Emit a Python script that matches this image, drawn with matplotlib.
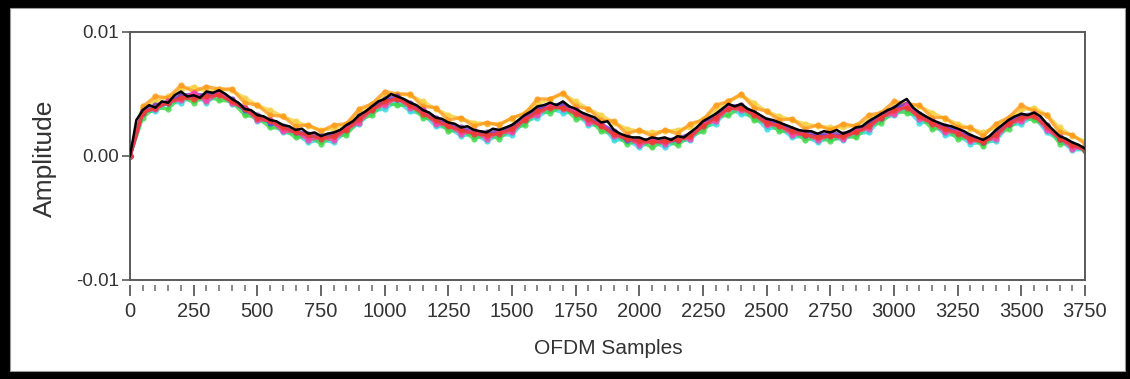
import numpy as np
import matplotlib
matplotlib.use("Agg")
import matplotlib.pyplot as plt
from matplotlib.patches import Rectangle
from matplotlib.ticker import MultipleLocator, FixedLocator

# ---- data (amplitude in units of 1e-3) ----
black = [0.0, 2.9, 3.7, 4.1, 3.9, 4.4, 4.3, 4.9, 5.2, 4.8, 4.9, 4.7, 5.2, 5.1, 5.3, 5.0,
         4.6, 4.3, 3.8, 3.7, 3.3, 3.2, 2.9, 2.8, 2.5, 2.4, 2.1, 2.2, 1.8, 1.9, 1.6, 1.8,
         1.9, 2.1, 2.5, 2.8, 3.3, 3.6, 4.0, 4.4, 4.6, 5.0, 4.8, 4.6, 4.3, 4.1, 3.7, 3.5,
         3.1, 3.0, 2.7, 2.6, 2.3, 2.4, 2.1, 2.0, 1.9, 2.2, 2.1, 2.3, 2.5, 2.9, 3.3, 3.6,
         4.0, 4.1, 4.3, 4.1, 4.4, 4.0, 3.8, 3.5, 3.3, 3.1, 2.7, 2.8, 2.1, 1.8, 1.6, 1.5,
         1.5, 1.3, 1.5, 1.4, 1.5, 1.3, 1.6, 1.5, 1.9, 2.3, 2.8, 3.1, 3.4, 3.8, 4.2, 4.0,
         4.2, 3.8, 3.6, 3.3, 3.0, 2.9, 2.7, 2.5, 2.3, 2.1, 2.0, 2.0, 1.8, 2.0, 1.9, 2.1,
         1.8, 2.0, 2.3, 2.4, 2.8, 3.1, 3.4, 3.7, 3.9, 4.3, 4.6, 3.9, 3.5, 3.2, 2.9, 2.7,
         2.5, 2.4, 2.2, 2.0, 1.7, 1.5, 1.3, 1.6, 2.1, 2.5, 2.9, 3.2, 3.4, 3.3, 3.5, 3.2,
         2.6, 2.1, 1.6, 1.4, 1.1, 0.9, 0.6]

orange = [0.0, 4.0, 4.8, 4.7, 5.7, 5.2, 5.6, 5.4, 5.4, 4.3, 4.1, 3.3, 3.2, 2.4, 2.5, 2.0,
          2.5, 2.6, 3.8, 4.2, 5.2, 5.0, 5.0, 4.0, 3.9, 2.9, 3.1, 2.4, 2.7, 2.5, 3.1, 3.4,
          4.6, 4.6, 5.1, 4.0, 3.8, 2.9, 2.8, 1.8, 2.1, 1.6, 2.1, 1.8, 2.6, 2.9, 4.1, 4.4,
          5.0, 3.9, 3.6, 2.9, 3.0, 2.2, 2.5, 2.1, 2.6, 2.4, 3.3, 3.5, 4.4, 4.2, 4.1, 3.1,
          3.1, 2.3, 2.3, 1.6, 2.6, 3.1, 4.1, 3.6, 3.3, 1.9, 1.7, 1.0]
yellow = [0.0, 3.9, 4.4, 4.8, 5.3, 5.6, 5.2, 5.4, 5.3, 4.7, 4.1, 3.7, 3.2, 2.8, 2.4, 2.1,
          2.2, 2.6, 3.5, 4.2, 4.8, 5.0, 4.9, 4.4, 3.8, 3.3, 3.0, 2.7, 2.6, 2.6, 3.0, 3.5,
          4.2, 4.6, 5.0, 4.4, 3.8, 3.3, 2.7, 2.2, 2.0, 1.9, 2.0, 2.1, 2.3, 3.0, 3.7, 4.4,
          4.9, 4.3, 3.6, 3.2, 2.9, 2.6, 2.4, 2.3, 2.3, 2.5, 2.9, 3.5, 4.0, 4.2, 4.0, 3.5,
          3.0, 2.6, 2.2, 1.9, 2.3, 3.1, 3.7, 3.9, 3.3, 2.3, 1.6, 1.2]
green = [0.0, 3.1, 3.9, 3.8, 4.8, 4.3, 4.8, 4.5, 4.4, 3.3, 3.1, 2.3, 2.2, 1.5, 1.6, 1.0,
         1.6, 1.7, 2.9, 3.3, 4.3, 4.1, 4.1, 3.1, 2.9, 2.0, 2.1, 1.4, 1.7, 1.4, 2.2, 2.5,
         3.6, 3.5, 4.0, 3.0, 3.0, 2.0, 1.8, 1.0, 1.2, 0.7, 1.2, 0.9, 1.6, 2.0, 3.1, 3.3,
         3.9, 2.9, 2.7, 2.0, 2.0, 1.3, 1.5, 1.2, 1.6, 1.5, 2.4, 2.7, 3.6, 3.5, 3.2, 2.2,
         2.2, 1.4, 1.5, 0.8, 1.7, 2.2, 3.1, 2.9, 2.4, 1.0, 1.0, 0.4]
cyan = [0.0, 3.6, 3.6, 4.3, 4.3, 4.9, 4.3, 5.0, 4.2, 3.8, 2.8, 2.8, 1.9, 1.8, 1.1, 1.3,
        1.1, 2.0, 2.6, 3.6, 3.8, 4.4, 3.6, 3.4, 2.4, 2.3, 1.6, 1.8, 1.2, 1.7, 1.7, 2.8,
        3.1, 3.8, 3.5, 3.5, 2.5, 2.5, 1.3, 1.3, 0.7, 1.2, 0.7, 1.2, 1.3, 2.3, 2.6, 3.8,
        3.4, 3.2, 2.2, 2.3, 1.5, 1.6, 1.1, 1.5, 1.3, 1.8, 1.9, 3.0, 3.3, 3.8, 2.7, 2.7,
        1.7, 1.7, 1.0, 1.1, 1.2, 2.5, 2.6, 3.2, 1.9, 1.3, 0.5, 0.5]
blue = [0.0, 3.5, 3.9, 4.3, 4.8, 4.8, 4.9, 5.0, 4.5, 3.7, 3.2, 2.7, 2.3, 1.9, 1.6, 1.5,
        1.7, 2.2, 3.1, 3.8, 4.5, 4.6, 4.2, 3.6, 2.9, 2.5, 2.1, 1.9, 1.7, 1.9, 2.3, 3.0,
        3.7, 4.0, 4.0, 3.6, 3.0, 2.5, 1.9, 1.3, 1.2, 1.2, 1.1, 1.3, 1.7, 2.5, 3.2, 3.9,
        4.0, 3.4, 2.8, 2.5, 2.0, 1.7, 1.6, 1.7, 1.6, 2.0, 2.5, 3.1, 3.8, 4.1, 3.3, 2.7,
        2.3, 1.9, 1.5, 1.1, 1.8, 2.6, 3.2, 3.3, 2.4, 1.4, 0.9, 0.5]
purple = [0.0, 3.6, 4.1, 4.4, 4.9, 5.0, 4.9, 5.1, 4.6, 3.9, 3.3, 2.9, 2.4, 2.0, 1.8, 1.6,
          1.8, 2.3, 3.2, 3.9, 4.6, 4.8, 4.3, 3.7, 3.1, 2.6, 2.3, 2.0, 1.9, 2.0, 2.4, 3.1,
          3.8, 4.1, 4.2, 3.7, 3.1, 2.6, 2.0, 1.5, 1.3, 1.3, 1.3, 1.4, 1.8, 2.6, 3.3, 4.0,
          4.1, 3.5, 2.9, 2.6, 2.2, 1.9, 1.7, 1.8, 1.8, 2.1, 2.6, 3.3, 3.9, 4.2, 3.4, 2.8,
          2.4, 2.0, 1.6, 1.2, 1.9, 2.8, 3.3, 3.4, 2.5, 1.5, 1.0, 0.6]
magenta = [0.0, 3.6, 3.8, 4.4, 4.5, 5.1, 4.4, 5.1, 4.3, 3.9, 2.9, 2.9, 2.0, 2.0, 1.3, 1.5,
           1.3, 2.2, 2.7, 3.8, 4.1, 4.7, 3.9, 3.7, 2.6, 2.5, 1.8, 2.0, 1.4, 1.9, 1.9, 3.0,
           3.3, 4.1, 3.8, 3.7, 2.7, 2.6, 1.6, 1.5, 0.9, 1.3, 1.0, 1.4, 1.4, 2.6, 2.8, 3.9,
           3.7, 3.5, 2.5, 2.5, 1.7, 1.8, 1.3, 1.7, 1.4, 2.0, 2.2, 3.2, 3.4, 4.1, 3.0, 2.8,
           1.9, 2.0, 1.2, 1.3, 1.4, 2.7, 2.8, 3.4, 2.1, 1.5, 0.6, 0.7]
red = [0.0, 3.5, 3.9, 4.3, 4.7, 4.6, 4.8, 4.9, 4.4, 3.8, 3.1, 2.8, 2.3, 1.9, 1.7, 1.4,
       1.6, 2.1, 3.0, 3.7, 4.4, 4.6, 4.1, 3.4, 2.9, 2.4, 2.1, 1.8, 1.7, 1.8, 2.2, 2.9,
       3.6, 3.9, 3.9, 3.4, 3.0, 2.4, 1.8, 1.4, 1.2, 1.1, 1.2, 1.3, 1.6, 2.4, 3.1, 3.8,
       3.9, 3.3, 2.7, 2.4, 2.0, 1.7, 1.5, 1.6, 1.6, 1.9, 2.4, 3.1, 3.7, 3.9, 3.2, 2.6,
       2.2, 1.8, 1.4, 1.1, 1.7, 2.6, 3.1, 3.2, 2.4, 1.4, 0.9, 0.5]

colored = [
    (yellow, "#f5d142"),
    (orange, "#ff9a1a"),
    (cyan, "#2fd8e0"),
    (green, "#3fd64a"),
    (blue, "#2f55ff"),
    (purple, "#7b3fc4"),
    (magenta, "#ff3fa8"),
    (red, "#f03a2e"),
]

x_max = 3750
y_ticks = [-0.01, 0.0, 0.01]
y_labels = ["-0.01", "0.00", "0.01"]
x_major = list(range(0, 3751, 250))
x_labels = [str(v) for v in x_major]

plt.rcParams['font.family'] = ['Liberation Sans', 'DejaVu Sans']
text_color = "#333333"

fig = plt.figure(figsize=(11.30, 3.79), dpi=100)
fig.patch.set_facecolor("black")
bg = Rectangle((10 / 1130, 8 / 379), 1115 / 1130, 363 / 379,
               transform=fig.transFigure, facecolor="white",
               edgecolor="#9a9a9a", linewidth=0.8, zorder=-10)
fig.add_artist(bg)

ax = fig.add_axes([130 / 1130, (379 - 280) / 379, 955 / 1130, 248 / 379])
ax.set_zorder(1)
ax.set_facecolor("white")

for vals, col in colored:
    xs = np.linspace(0, x_max, len(vals))
    ax.plot(xs, np.array(vals) * 1e-3, color=col, lw=2.4, alpha=0.8,
            marker="o", ms=4.5, mew=0, solid_joinstyle="round")

xb = np.linspace(0, x_max, len(black))
ax.plot(xb, np.array(black) * 1e-3, color="black", lw=1.8, zorder=5)

ax.set_xlim(0, x_max)
ax.set_ylim(-0.01, 0.01)

for s in ax.spines.values():
    s.set_color("#5a5a5a")
    s.set_linewidth(1.4)

ax.yaxis.set_major_locator(FixedLocator(y_ticks))
ax.set_yticklabels(y_labels)
ax.tick_params(axis="y", direction="out", length=6, width=1.2, color="#5a5a5a",
               labelsize=13.5, labelcolor=text_color, pad=2)
ax.tick_params(axis="x", bottom=False, labelbottom=False)

sec = ax.secondary_xaxis(-0.022)
sec.spines["bottom"].set_visible(False)
sec.xaxis.set_major_locator(FixedLocator(x_major))
sec.set_xticklabels(x_labels)
sec.xaxis.set_minor_locator(MultipleLocator(50))
sec.tick_params(axis="x", which="major", direction="out", length=8, width=1.3,
                color="#5a5a5a", labelsize=14.5, labelcolor=text_color, pad=4)
sec.tick_params(axis="x", which="minor", direction="out", length=4, width=1.1,
                color="#6a6a6a")

fig.text(608 / 1130, 1 - 349 / 379, "OFDM Samples", ha="center", va="center",
         fontsize=15, color=text_color)
fig.text(45 / 1130, 1 - 158 / 379, "Amplitude", ha="center", va="center",
         rotation=90, fontsize=19, color=text_color)

fig.savefig("out.png", dpi=100, facecolor=fig.get_facecolor())
